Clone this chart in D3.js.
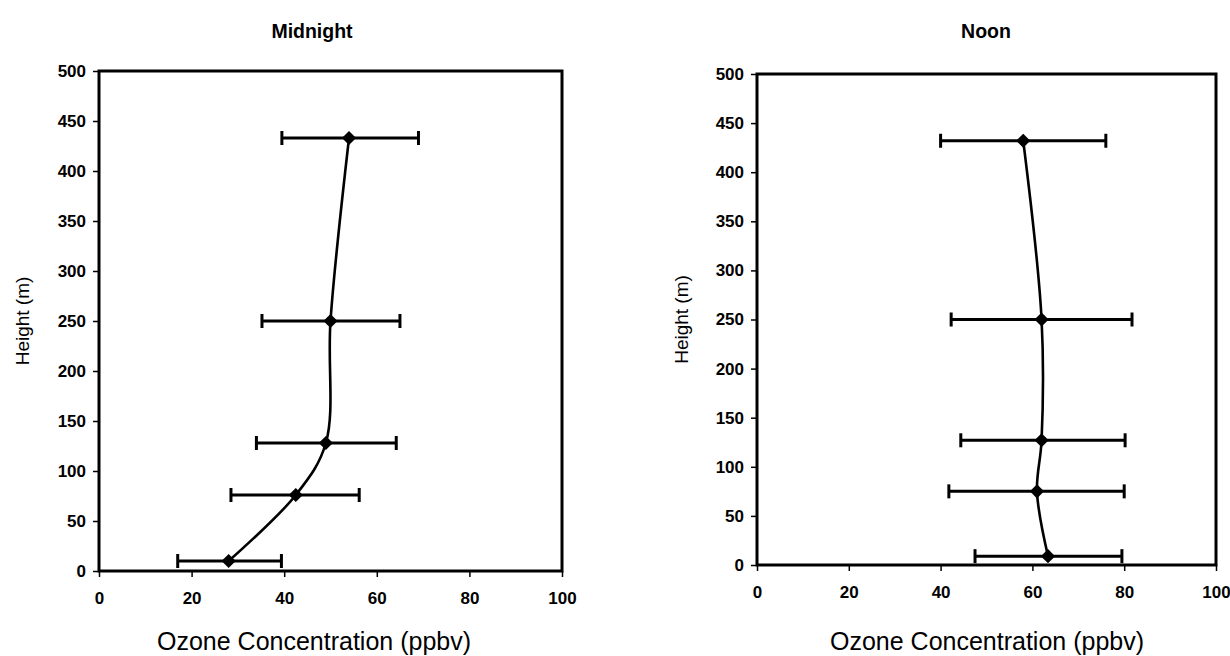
<!DOCTYPE html>
<html>
<head>
<meta charset="utf-8">
<script src="https://cdn.jsdelivr.net/npm/d3@7"></script>
<style>
  body { margin: 0; background: #fff; }
  svg { display: block; font-family: "Liberation Sans", Arial, sans-serif; }
</style>
</head>
<body>
<svg id="chart" width="1230" height="656"></svg>
<script>
// heights (m) of the profile points
const heights = [10, 76, 128, 250, 433];
const heightsNoon = [9, 75, 127, 250, 432];

// midnight ozone (ppbv) with error bar ends
const midnightMean = [28, 42.5, 49, 50, 54];
const midnightLow = [17, 28.5, 34, 35.2, 39.5];
const midnightHigh = [39.4, 56.2, 64.2, 65, 69];

// noon ozone (ppbv) with error bar ends
const noonMean = [63.4, 61, 62, 62, 58];
const noonLow = [47.5, 41.8, 44.4, 42.3, 40];
const noonHigh = [79.5, 80, 80.2, 81.7, 76];

const xTicks = [0, 20, 40, 60, 80, 100];
const yTicks = [0, 50, 100, 150, 200, 250, 300, 350, 400, 450, 500];

const svg = d3.select("#chart");

const panels = [
  { title: "Midnight", h: heights, mean: midnightMean, low: midnightLow, high: midnightHigh,
    left: 99, right: 562, top: 71, bottom: 571, labelX: 22, titleX: 312, xLabelX: 314 },
  { title: "Noon", h: heightsNoon, mean: noonMean, low: noonLow, high: noonHigh,
    left: 757, right: 1216, top: 74, bottom: 565, labelX: 681, titleX: 986, xLabelX: 987 }
];

const diamond = d3.symbol(d3.symbolSquare).size(100);

const drawPanel = (p) => {
  const x = d3.scaleLinear().domain([0, 100]).range([p.left, p.right]);
  const y = d3.scaleLinear().domain([0, 500]).range([p.bottom, p.top]);
  const g = svg.append("g");

  const rows = p.h.map((h, i) => ({ h: h, m: p.mean[i], lo: p.low[i], hi: p.high[i] }));

  // axes
  const yAxis = g.append("g")
      .attr("transform", `translate(${p.left},0)`)
      .call(d3.axisLeft(y).tickValues(yTicks).tickSize(6).tickPadding(7));
  const xAxis = g.append("g")
      .attr("transform", `translate(0,${p.bottom})`)
      .call(d3.axisBottom(x).tickValues(xTicks).tickSize(6).tickPadding(15));

  [xAxis, yAxis].forEach((a) => {
    a.select(".domain").remove();
    a.selectAll(".tick line").attr("stroke", "#000").attr("stroke-width", 1.5);
    a.selectAll(".tick text")
        .attr("fill", "#000")
        .attr("font-size", 17)
        .attr("font-weight", "bold")
        .attr("font-family", "'Liberation Sans', Arial, sans-serif");
  });

  // frame
  g.append("rect")
      .attr("x", p.left)
      .attr("y", p.top)
      .attr("width", p.right - p.left)
      .attr("height", p.bottom - p.top)
      .attr("fill", "none")
      .attr("stroke", "#000")
      .attr("stroke-width", 3);

  // smoothed profile
  const line = d3.line()
      .x(function(d) { return x(d.m); })
      .y(function(d) { return y(d.h); })
      .curve(d3.curveCatmullRom.alpha(0.5));

  g.append("path")
      .datum(rows)
      .attr("d", line)
      .attr("fill", "none")
      .attr("stroke", "#000")
      .attr("stroke-width", 2.6);

  // error bars
  const bars = g.append("g").selectAll("g")
    .data(rows)
    .enter().append("g");

  bars.append("line")
      .attr("x1", function(d) { return x(d.lo); })
      .attr("x2", function(d) { return x(d.hi); })
      .attr("y1", function(d) { return y(d.h); })
      .attr("y2", function(d) { return y(d.h); })
      .attr("stroke", "#000")
      .attr("stroke-width", 3);

  ["lo", "hi"].forEach((k) => {
    bars.append("line")
        .attr("x1", function(d) { return x(d[k]); })
        .attr("x2", function(d) { return x(d[k]); })
        .attr("y1", function(d) { return y(d.h) - 7; })
        .attr("y2", function(d) { return y(d.h) + 7; })
        .attr("stroke", "#000")
        .attr("stroke-width", 3);
  });

  // diamond markers (square turned 45 degrees)
  bars.append("path")
      .attr("d", diamond)
      .attr("transform", function(d) { return `translate(${x(d.m)},${y(d.h)}) rotate(45)`; })
      .attr("fill", "#000");

  // titles and labels
  svg.append("text")
      .attr("x", p.titleX)
      .attr("y", 38)
      .attr("text-anchor", "middle")
      .attr("font-size", 19.5)
      .attr("font-weight", "bold")
      .text(p.title);

  svg.append("text")
      .attr("x", p.xLabelX)
      .attr("y", 650)
      .attr("text-anchor", "middle")
      .attr("font-size", 25)
      .text("Ozone Concentration (ppbv)");

  svg.append("text")
      .attr("transform", `translate(${p.labelX},${(p.top + p.bottom) / 2}) rotate(-90)`)
      .attr("text-anchor", "middle")
      .attr("dy", "0.35em")
      .attr("font-size", 19)
      .text("Height (m)");
};

panels.forEach(drawPanel);
</script>
</body>
</html>
